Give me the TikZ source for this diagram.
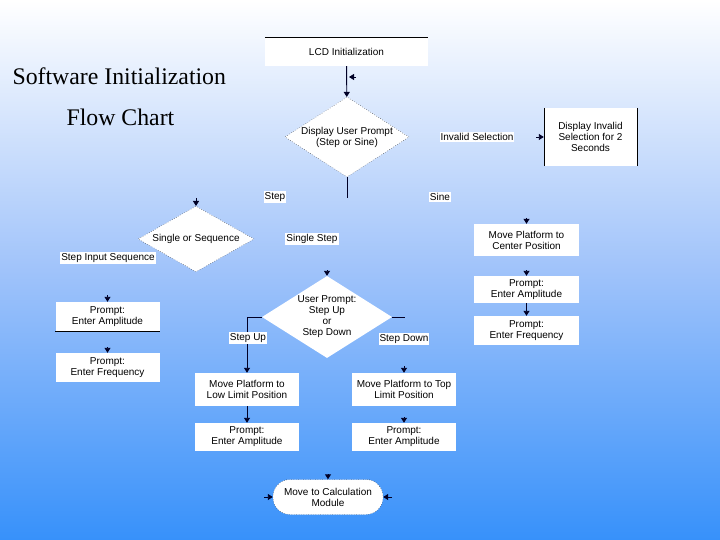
\documentclass[tikz,border=0pt]{standalone}
\usepackage{fontspec}
\setmainfont{Liberation Serif}
\newfontfamily\boxfont{Liberation Sans}
\usetikzlibrary{shapes.geometric,arrows.meta}
\definecolor{bgblue}{RGB}{55,145,250}
\definecolor{bgmid}{RGB}{160,195,250}
\begin{document}
\begin{tikzpicture}[x=1pt,y=-1pt,
  box/.style={fill=white,draw=none,minimum width=104pt,minimum height=30pt,align=center,font=\boxfont\fontsize{10}{11}\selectfont,inner sep=1pt},
  dia/.style={diamond,aspect=1.55,fill=white,draw=black,dotted,thin,align=center,font=\boxfont\fontsize{10}{11}\selectfont,inner sep=0pt},
  lbl/.style={fill=white,inner sep=1pt,font=\boxfont\fontsize{10}{11}\selectfont},
  ttl/.style={font=\fontsize{23.8}{27}\selectfont,anchor=west},
  con/.style={draw=black!85!blue,line width=0.9pt},
  arr/.style={con,-{Triangle[length=5pt,width=6pt]}},
  tipd/.style={-{Triangle[length=5pt,width=6pt]},draw=black!85!blue,line width=0.9pt}]
\useasboundingbox (0,0) rectangle (720,540);
\shade[top color=white,bottom color=bgblue,middle color=bgmid] (0,0) rectangle (720,540);

\node[ttl] (t1) at (9,76) {Software Initialization};
\node[ttl] (t2) at (63,117) {Flow Chart};

% main column
\node[box,minimum width=163pt,minimum height=28pt] (lcd) at (346.5,52) {LCD Initialization};
\draw[line width=0.6pt] (lcd.north west) -- (lcd.north east);
\node[dia,minimum width=124pt,minimum height=80pt] (d1) at (347,137) {Display User Prompt\\(Step or Sine)};
\draw[arr] (lcd) -- (d1);
\coordinate (mk) at (356,77); \coordinate (mk2) at (349,77);
\draw[tipd] (mk) -- (mk2);
\coordinate (d1b) at (347,198);
\draw[con] (d1.south) -- (d1b);
\node[lbl] (step) at (275,197) {Step};
\node[lbl] (sine) at (440,197) {Sine};
\node[lbl] (inv) at (477,137) {Invalid Selection};
\node[box,minimum width=93pt,minimum height=58pt] (dinv) at (590.5,137) {Display Invalid\\Selection for 2\\Seconds};
\draw[line width=0.6pt] (dinv.north west) -- (dinv.south west) (dinv.north east) -- (dinv.south east);
\coordinate (ia) at (536,137);
\draw[tipd] (ia) -- (dinv.west);

% step branch
\node[dia,minimum width=116pt,minimum height=58pt] (d2) at (196,239) {Single or Sequence};
\coordinate (d2a) at (196,198); \draw[tipd] (d2a) -- (d2.north);
\node[lbl] (ss) at (312,239) {Single Step};
\node[lbl] (sis) at (108,258) {Step Input Sequence};
\node[box,minimum height=29pt] (pa1) at (107.5,316.5) {Prompt:\\Enter Amplitude};
\draw[line width=0.6pt] (pa1.south west) -- (pa1.south east);
\coordinate (pa1a) at (107.5,295); \draw[tipd] (pa1a) -- (pa1.north);
\node[box,minimum height=29pt] (pf1) at (107.5,367.5) {Prompt:\\Enter Frequency};
\coordinate (pf1a) at (107.5,347); \draw[tipd] (pf1a) -- (pf1.north);

\node[dia,draw=none,minimum width=130pt,minimum height=82pt] (d3) at (327,317) {User Prompt:\\Step Up\\or\\Step Down};
\coordinate (d3a) at (327,270); \draw[tipd] (d3a) -- (d3.north);
\node[box,minimum height=33pt] (ml) at (247,389.5) {Move Platform to\\Low Limit Position};
\node[box,minimum height=33pt] (mt) at (404,389.5) {Move Platform to Top\\Limit Position};
\draw[arr] (d3.west) -| (ml.north);
\coordinate (d3r) at (405,317);
\draw[con] (d3.east) -- (d3r);
\node[lbl] (su) at (248,338) {Step Up};
\node[lbl] (sd) at (404,339) {Step Down};
\coordinate (mta) at (404,366); \draw[tipd] (mta) -- (mt.north);
\node[box,minimum height=28pt] (pl) at (247,437) {Prompt:\\Enter Amplitude};
\node[box,minimum height=28pt] (pt) at (404,437) {Prompt:\\Enter Amplitude};
\draw[arr] (ml) -- (pl);
\coordinate (pta) at (404,417); \draw[tipd] (pta) -- (pt.north);
\node[fill=white,draw=black,dotted,rounded corners=17pt,minimum width=110pt,minimum height=35pt,align=center,font=\boxfont\fontsize{10}{11}\selectfont,inner sep=1pt] (calc) at (328,497) {Move to Calculation\\Module};
\coordinate (ca) at (328,474); \draw[tipd] (ca) -- (calc.north);
\coordinate (cl) at (264,497); \draw[tipd] (cl) -- (calc.west);
\coordinate (cr) at (392,497); \draw[tipd] (cr) -- (calc.east);

% sine branch
\node[box,minimum width=105pt,minimum height=32pt] (mc) at (526.5,240) {Move Platform to\\Center Position};
\coordinate (mca) at (526.5,218); \draw[tipd] (mca) -- (mc.north);
\node[box,minimum width=105pt,minimum height=27pt] (pa2) at (526.5,289.5) {Prompt:\\Enter Amplitude};
\coordinate (pa2a) at (526.5,270); \draw[tipd] (pa2a) -- (pa2.north);
\node[box,minimum width=105pt,minimum height=29pt] (pf2) at (526.5,330.5) {Prompt:\\Enter Frequency};
\draw[arr] (pa2) -- (pf2);
\end{tikzpicture}
\end{document}
